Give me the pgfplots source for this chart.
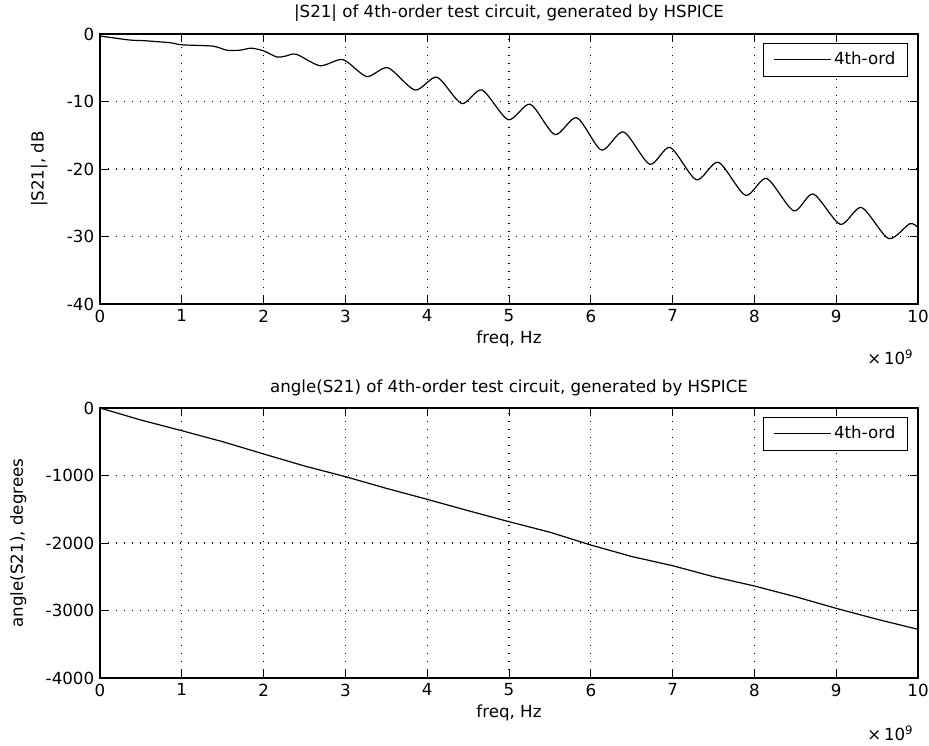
\documentclass[border=0pt]{standalone}
\usepackage{pgfplots}
\pgfplotsset{compat=1.18}
\usepackage{fontspec}
\setmainfont{DejaVu Sans}

\pgfplotstableread{
f dB
0.00 -0.3
0.12 -0.5
0.37 -0.9
0.55 -1.0
0.86 -1.3
1.00 -1.6
1.38 -1.8
1.55 -2.4
1.71 -2.4
1.85 -2.1
2.00 -2.5
2.16 -3.4
2.26 -3.3
2.40 -3.0
2.69 -4.7
2.97 -3.8
3.26 -6.3
3.52 -5.0
3.85 -8.3
4.12 -6.4
4.42 -10.3
4.67 -8.3
4.99 -12.7
5.26 -10.4
5.56 -14.9
5.83 -12.4
6.13 -17.2
6.40 -14.5
6.72 -19.3
6.97 -16.8
7.29 -21.6
7.56 -19.0
7.89 -23.9
8.15 -21.4
8.48 -26.2
8.72 -23.7
9.05 -28.2
9.31 -25.7
9.64 -30.3
9.90 -28.1
10.00 -28.7
}\magtable

\pgfplotstableread{
f deg
0.0 0
0.5 -178
1.0 -336
1.5 -499
2.0 -681
2.5 -859
3.0 -1017
3.5 -1190
4.0 -1353
4.5 -1521
5.0 -1684
5.5 -1840
6.0 -2030
6.5 -2200
7.0 -2336
7.5 -2499
8.0 -2637
8.5 -2795
9.0 -2968
9.5 -3130
10.0 -3279
}\phasetable

\pgfplotsset{
  mstyle/.style={
    scale only axis,
    width=613.5pt, height=202.5pt,
    xmin=0, xmax=10,
    xtick={0,1,...,10},
    xticklabels={0,1,2,3,4,5,6,7,8,9,10},
    tick align=inside,
    xtick pos=both, ytick pos=both,
    major tick length=6pt,
    tick style={black, line width=0.75pt},
    axis line style={black, line width=0.9pt},
    grid=major,
    major grid style={black, line width=0.8pt, dash pattern=on 0.8pt off 5.2pt},
    xlabel={freq, Hz},
    xlabel style={yshift=2pt},
    ylabel style={yshift=6pt},
    title style={yshift=-1pt},
    legend cell align=left,
    legend style={at={(1,1)}, anchor=north east, xshift=-7.5pt, yshift=-6.75pt,
      draw=black, line width=0.9pt, inner xsep=7pt, inner ysep=4.5pt, row sep=0pt,
      font=\fontsize{12.5}{15}\selectfont},
    legend image code/.code={\draw[#1, line width=0.75pt] (0pt,0pt) -- (43pt,0pt);},
  }
}

\begin{document}
\fontsize{12.5}{15}\selectfont
\begin{tikzpicture}
\begin{axis}[mstyle, name=top,
  at={(75pt,-228pt)}, anchor=south west,
  ymin=-40, ymax=0,
  ytick={-40,-30,-20,-10,0},
  yticklabels={-40,-30,-20,-10,0},
  ylabel={|S21|, dB},
  title={|S21| of 4th-order test circuit, generated by HSPICE},
]
\addplot[black, line width=0.9pt, smooth, tension=0.45] table[x=f, y=dB] {\magtable};
\addlegendentry{4th-ord}
\end{axis}

\begin{axis}[mstyle, name=bot,
  at={(75pt,-508.5pt)}, anchor=south west,
  ymin=-4000, ymax=0,
  ytick={-4000,-3000,-2000,-1000,0},
  yticklabels={-4000,-3000,-2000,-1000,0},
  ylabel={angle(S21), degrees},
  title={angle(S21) of 4th-order test circuit, generated by HSPICE},
]
\addplot[black, line width=0.9pt] table[x=f, y=deg] {\phasetable};
\addlegendentry{4th-ord}
\end{axis}
\node[anchor=base west, inner sep=0pt] at ([xshift=-38.25pt, yshift=-45pt]top.south east) {×\,10\textsuperscript{9}};
\node[anchor=base west, inner sep=0pt] at ([xshift=-38.25pt, yshift=-47pt]bot.south east) {×\,10\textsuperscript{9}};
\pgfresetboundingbox
\useasboundingbox (0,0) rectangle (696.75pt,-559.5pt);
\end{tikzpicture}
\end{document}
